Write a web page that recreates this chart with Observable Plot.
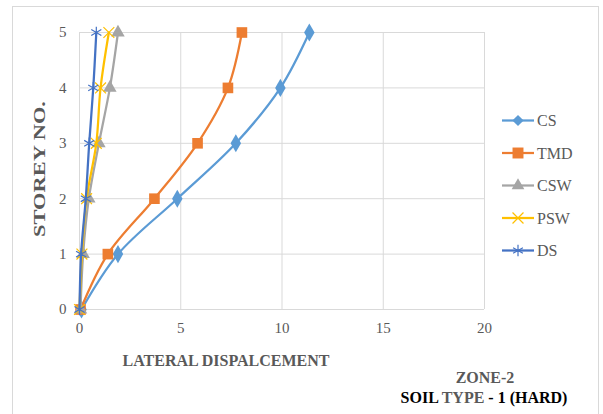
<!DOCTYPE html>
<html>
<head>
<meta charset="utf-8">
<script src="https://cdn.jsdelivr.net/npm/d3@7"></script>
<script src="https://cdn.jsdelivr.net/npm/@observablehq/plot@0.6"></script>
<style>
  html, body { margin: 0; padding: 0; background: #fff; }
  svg { display: block; }
</style>
</head>
<body>
<div id="chart"></div>
<script>
const storeys = [0, 1, 2, 3, 4, 5];
const seriesNames = ["CS", "TMD", "CSW", "PSW", "DS"];
const csValues  = [0.10, 1.90, 4.83, 7.72, 9.92, 11.35];
const tmdValues = [0.05, 1.40, 3.70, 5.83, 7.33, 8.02];
const cswValues = [0.05, 0.18, 0.46, 0.96, 1.50, 1.90];
const pswValues = [0.00, 0.12, 0.35, 0.83, 1.04, 1.45];
const dsValues  = [0.00, 0.08, 0.31, 0.48, 0.68, 0.83];
const xTicks = [0, 5, 10, 15, 20];
const yTicks = [0, 1, 2, 3, 4, 5];

const colors = {CS: "#5B9BD5", TMD: "#ED7D31", CSW: "#A5A5A5", PSW: "#FFC000", DS: "#4472C4"};
const symbols = {CS: "diamond", TMD: "square", CSW: "triangle", PSW: "times", DS: "asterisk"};
const filled = {CS: true, TMD: true, CSW: true, PSW: false, DS: false};
const sizes = {CS: 5.5, TMD: 6, CSW: 5, PSW: 5, DS: 5.5};

const valuesBySeries = {CS: csValues, TMD: tmdValues, CSW: cswValues, PSW: pswValues, DS: dsValues};
const data = seriesNames.flatMap(s => storeys.map((st, i) => ({series: s, storey: st, disp: valuesBySeries[s][i]})));

const grey = "#595959";

const marks = [
  Plot.gridX(xTicks, {x: d => d, stroke: "#d9d9d9", strokeOpacity: 1, strokeWidth: 1}),
  Plot.gridY(yTicks, {y: d => d, stroke: "#d9d9d9", strokeOpacity: 1, strokeWidth: 1}),
  Plot.axisX(xTicks, {x: d => d, tickSize: 0, tickPadding: 13, fontSize: 15, fill: grey, tickFormat: d => String(d), label: null}),
  Plot.axisY(yTicks, {y: d => d, tickSize: 0, tickPadding: 13, fontSize: 15, fill: grey, tickFormat: d => String(d), label: null})
];
for (const s of ["CS", "TMD", "CSW", "PSW", "DS"]) {
  const d = data.filter(r => r.series === s);
  marks.push(Plot.line(d, {x: "disp", y: "storey", stroke: colors[s], strokeWidth: 2.25, curve: "catmull-rom"}));
  marks.push(Plot.dot(d, filled[s]
    ? {x: "disp", y: "storey", symbol: () => symbols[s], fill: colors[s], stroke: "none", r: sizes[s]}
    : {x: "disp", y: "storey", symbol: () => symbols[s], stroke: colors[s], fill: "none", strokeWidth: 1.2, r: sizes[s]}));
}

const chart = Plot.plot({
  width: 603,
  height: 414,
  marginLeft: 79,
  marginRight: 119,
  marginTop: 32,
  marginBottom: 105,
  style: {background: "#fff"},
  x: {domain: [0, 20]},
  y: {domain: [0, 5]},
  symbol: {type: "identity"},
  marks
});

const svg = d3.select(chart);
svg.insert("rect", ":first-child")
  .attr("x", 12.5).attr("y", 6.5).attr("width", 586).attr("height", 420)
  .attr("fill", "none").attr("stroke", "#d9d9d9").attr("stroke-width", 1);

function addText(x, y, str, opts = {}) {
  return svg.append("text")
    .attr("x", x).attr("y", y)
    .attr("text-anchor", opts.anchor || "middle")
    .attr("font-size", opts.size || 15)
    .attr("font-weight", opts.bold ? "bold" : "normal")
    .attr("fill", opts.fill || grey)
    .text(str);
}

svg.append("text")
  .attr("transform", "translate(45,169) rotate(-90)")
  .attr("text-anchor", "middle")
  .attr("font-size", 17).attr("font-weight", "bold")
  .attr("textLength", 136).attr("lengthAdjust", "spacingAndGlyphs")
  .attr("fill", grey).text("STOREY NO.");
addText(226, 366, "LATERAL DISPALCEMENT", {bold: true, size: 16});
addText(485, 383, "ZONE-2", {bold: true, size: 16});
const t2 = svg.append("text")
  .attr("x", 484).attr("y", 403)
  .attr("text-anchor", "middle")
  .attr("font-size", 16).attr("font-weight", "bold");
t2.append("tspan").attr("fill", "#000").text("SOIL ");
t2.append("tspan").attr("fill", grey).text("TYPE");
t2.append("tspan").attr("fill", "#000").text(" - 1 (HARD)");

const legendY = [120.5, 153, 185.5, 218, 250.5];
const symGen = {
  CS: d3.symbol(d3.symbolDiamond2, 80),
  TMD: d3.symbol(d3.symbolSquare, 120),
  CSW: d3.symbol(d3.symbolTriangle, 70),
  PSW: d3.symbol(d3.symbolTimes, 80),
  DS: d3.symbol(d3.symbolAsterisk, 90)
};
seriesNames.forEach((s, i) => {
  const g = svg.append("g").attr("transform", `translate(0,${legendY[i]})`);
  g.append("line").attr("x1", 502).attr("x2", 534).attr("y1", 0).attr("y2", 0)
    .attr("stroke", colors[s]).attr("stroke-width", 2.25);
  const p = g.append("path").attr("transform", "translate(518,0)").attr("d", symGen[s]());
  if (filled[s]) p.attr("fill", colors[s]); else p.attr("fill", "none").attr("stroke", colors[s]).attr("stroke-width", 1.2);
  g.append("text").attr("x", 537).attr("y", 5.5).attr("text-anchor", "start")
    .attr("font-size", 16).attr("fill", grey).text(s);
});

svg.selectAll("text").style("font-family", "'Liberation Serif', 'Times New Roman', serif");

document.getElementById("chart").appendChild(chart);
</script>
</body>
</html>
